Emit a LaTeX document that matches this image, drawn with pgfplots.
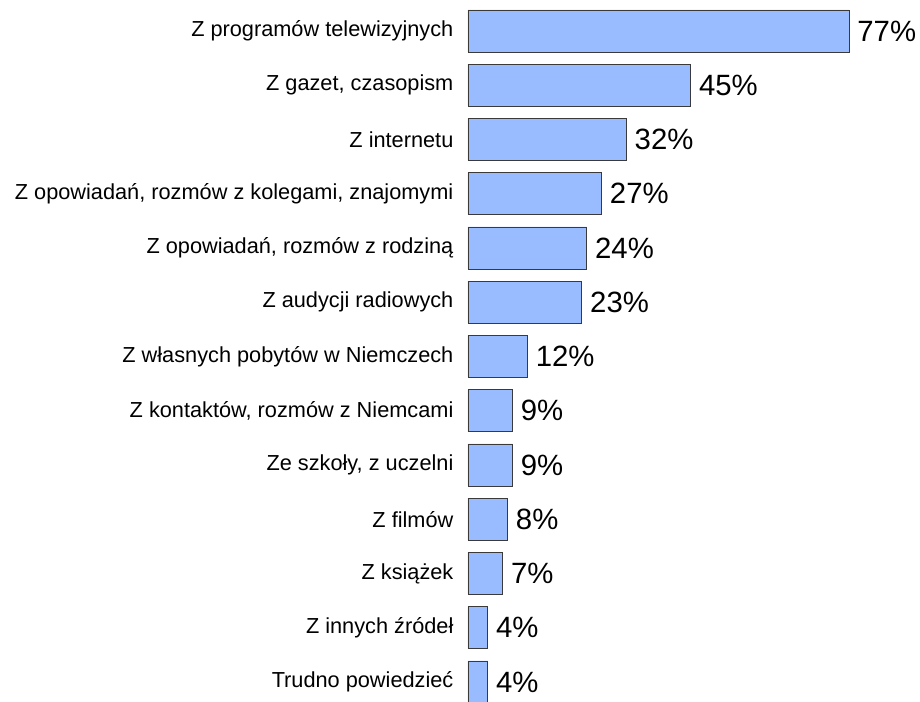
\documentclass[border=0pt]{standalone}
\usepackage{fontspec}
\setmainfont{Liberation Sans}
\usepackage{pgfplots}
\pgfplotsset{compat=1.18}
\definecolor{barfill}{HTML}{99BBFF}
\definecolor{barline}{HTML}{3A3A3A}
\begin{document}
\begin{tikzpicture}
\useasboundingbox (-351pt,0pt) rectangle (339pt,526.5pt);
\begin{axis}[
  scale only axis,
  width=285.75pt, height=526.5pt,
  xmin=0, xmax=77,
  ymin=-0.571, ymax=12.369,
  y dir=reverse,
  xbar, bar width=31.5pt,
  axis line style={draw=none},
  tick style={draw=none},
  xtick=\empty,
  ytick={0,...,12},
  yticklabels={Z programów telewizyjnych, {Z gazet, czasopism}, Z internetu, {Z opowiadań, rozmów z kolegami, znajomymi}, {Z opowiadań, rozmów z rodziną}, Z audycji radiowych, Z własnych pobytów w Niemczech, {Z kontaktów, rozmów z Niemcami}, {Ze szkoły, z uczelni}, Z filmów, Z książek, Z innych źródeł, Trudno powiedzieć},
  yticklabel style={font=\fontsize{16.3}{19}\selectfont, inner sep=0pt, anchor=east, xshift=-6.5pt},
  clip=false,
  /pgf/number format/assume math mode=true,
  nodes near coords={\pgfmathprintnumber{\pgfplotspointmeta}\%},
  nodes near coords style={font=\fontsize{22}{26}\selectfont, anchor=west, inner sep=0pt, xshift=6pt},
]
\addplot[fill=barfill, draw=barline, line width=0.6pt] coordinates {
(77,0) (45,1) (32,2) (27,3) (24,4) (23,5) (12,6) (9,7) (9,8) (8,9) (7,10) (4,11) (4,12)
};
\end{axis}
\end{tikzpicture}
\end{document}
